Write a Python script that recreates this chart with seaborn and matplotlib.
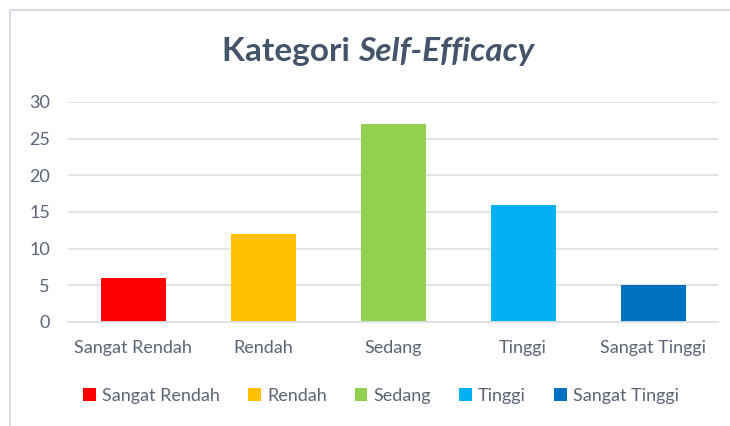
import matplotlib
matplotlib.use("Agg")
import matplotlib.pyplot as plt
import seaborn as sns
import pandas as pd
from matplotlib.lines import Line2D

categories = ["Sangat Rendah", "Rendah", "Sedang", "Tinggi", "Sangat Tinggi"]
values = [6, 12, 27, 16, 5]
colors = ["#FF0000", "#FFC000", "#92D050", "#00B0F0", "#0070C0"]
yticks = [0, 5, 10, 15, 20, 25, 30]

sns.set_theme(style="white")
plt.rcParams['font.family'] = ['Lato', 'DejaVu Sans']

text_color = "#5B6577"
grid_color = "#DDE1E7"

df = pd.DataFrame({"Kategori": categories, "Jumlah": values})

fig = plt.figure(figsize=(7.30, 4.26), dpi=100)
ax = fig.add_axes([68/730, 1 - 322/426, 650/730, 220/426])

sns.barplot(data=df, x="Kategori", y="Jumlah", hue="Kategori",
            palette=dict(zip(categories, colors)), width=0.5,
            saturation=1, ax=ax, legend=True, linewidth=0)

ax.set_xlim(-0.5, 4.5)
ax.set_ylim(0, 30)
ax.set_yticks(yticks)
ax.set_yticklabels([str(t) for t in yticks])
ax.set_axisbelow(True)
ax.yaxis.grid(True, color=grid_color, linewidth=1.3)
for s in ["top", "right", "left"]:
    ax.spines[s].set_visible(False)
ax.spines["bottom"].set_color(grid_color)
ax.spines["bottom"].set_linewidth(1.3)
ax.set_xlabel("")
ax.set_ylabel("")
ax.tick_params(axis="both", length=0, labelsize=13, labelcolor=text_color)
ax.tick_params(axis="x", pad=13)
ax.tick_params(axis="y", pad=13)

handles, labels = ax.get_legend_handles_labels()
if ax.get_legend() is not None:
    ax.get_legend().remove()
fig.legend(handles, labels, loc="center", bbox_to_anchor=(381/730, 1 - 396/426),
           ncol=5, frameon=False, fontsize=13, labelcolor=text_color,
           handlelength=0.7, handleheight=0.7, handletextpad=0.35,
           columnspacing=1.55)

# Title with mixed styles
title_color = "#44546A"
fig.canvas.draw()
r = fig.canvas.get_renderer()
y_title = 1 - 52/426
t1 = fig.text(0, y_title, "Kategori ", fontsize=24, fontweight="bold",
              color=title_color, ha="left", va="center")
t2 = fig.text(0, y_title, "Self-Efficacy", fontsize=24, fontweight="bold",
              style="italic", color=title_color, ha="left", va="center")
w1 = t1.get_window_extent(r).width
w2 = t2.get_window_extent(r).width
total = w1 + w2
x0 = 378 - total / 2
t1.set_x(x0 / 730)
t2.set_x((x0 + w1) / 730)

# Chart frame (top and left edges visible)
fig.add_artist(Line2D([10/730, 1], [1 - 10/426, 1 - 10/426], color="#D9DEE6",
                      linewidth=1.5, transform=fig.transFigure))
fig.add_artist(Line2D([10/730, 10/730], [0, 1 - 10/426], color="#D9DEE6",
                      linewidth=1.5, transform=fig.transFigure))

fig.savefig("out.png", dpi=100)
